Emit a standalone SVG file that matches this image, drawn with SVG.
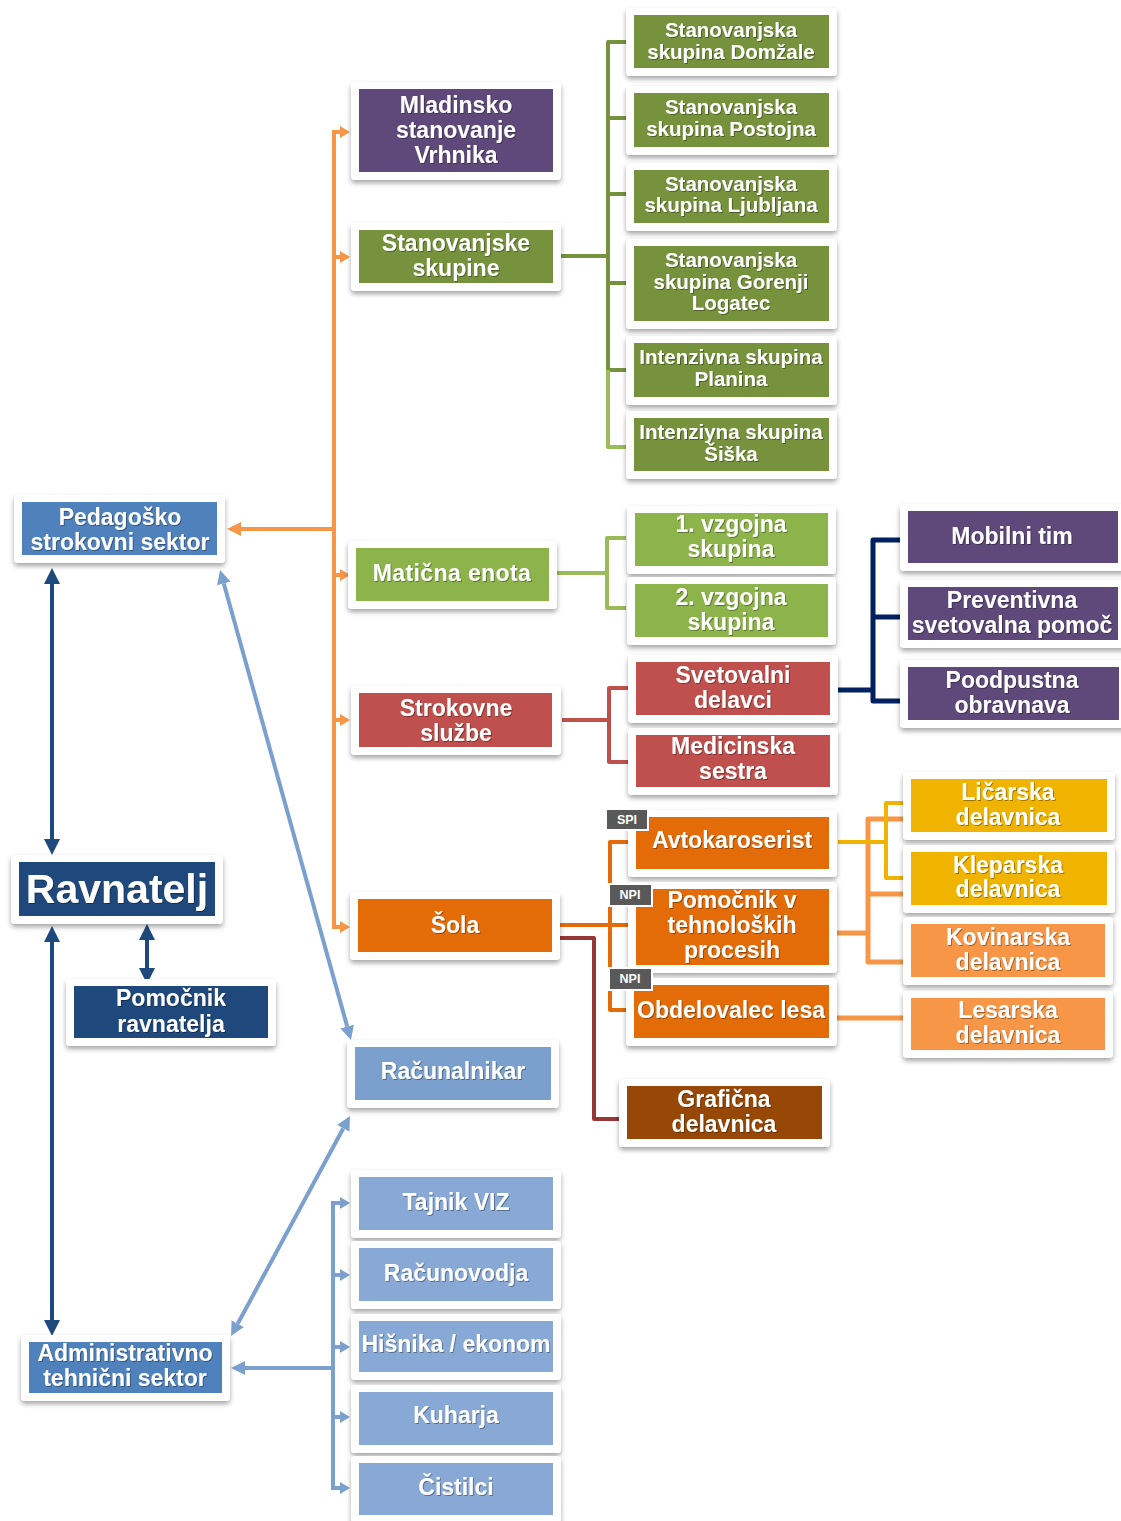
<svg xmlns="http://www.w3.org/2000/svg" width="1121" height="1521" viewBox="0 0 1121 1521">
<defs>
<filter id="sh" x="-10%" y="-20%" width="120%" height="150%"><feDropShadow dx="0" dy="3" stdDeviation="2.5" flood-color="#000" flood-opacity="0.35"/></filter>
<filter id="tsh" x="-10%" y="-30%" width="120%" height="160%"><feDropShadow dx="1" dy="1" stdDeviation="0.6" flood-color="#000" flood-opacity="0.35"/></filter>
<marker id="mO" viewBox="0 -6 10 12" refX="0" refY="0" markerWidth="10" markerHeight="12" markerUnits="userSpaceOnUse" orient="auto"><path d="M0,-6 L10,0 L0,6 z" fill="#F79646"/></marker>
<marker id="mOL" viewBox="0 -7 14 14" refX="0" refY="0" markerWidth="14" markerHeight="14" markerUnits="userSpaceOnUse" orient="auto"><path d="M0,-7 L14,0 L0,7 z" fill="#F79646"/></marker>
<marker id="mN" viewBox="0 -8 16 16" refX="0" refY="0" markerWidth="16" markerHeight="16" markerUnits="userSpaceOnUse" orient="auto-start-reverse"><path d="M0,-8 L16,0 L0,8 z" fill="#1F497D"/></marker>
<marker id="mB" viewBox="0 -7 14 14" refX="0" refY="0" markerWidth="14" markerHeight="14" markerUnits="userSpaceOnUse" orient="auto-start-reverse"><path d="M0,-7 L14,0 L0,7 z" fill="#7BA0CD"/></marker>
<marker id="mBs" viewBox="0 -6 10 12" refX="0" refY="0" markerWidth="10" markerHeight="12" markerUnits="userSpaceOnUse" orient="auto"><path d="M0,-6 L10,0 L0,6 z" fill="#7BA0CD"/></marker>
</defs>
<style>
.c{fill:#fff;filter:url(#sh)}
.t{font-family:"Liberation Sans",Arial,sans-serif;font-weight:bold;font-size:23px;fill:#fff;text-anchor:middle;filter:url(#tsh)}
.s{font-size:20.5px}
.big{font-size:41px}
.bd{font-size:12.5px;filter:none}
.ln{fill:none;stroke-linejoin:round}
.pur{fill:#5F497A}.olv{fill:#76923C}.lgr{fill:#8DB44B}.red{fill:#C0504D}.org{fill:#E36C09}
.brn{fill:#984806}.gld{fill:#F0B400}.lor{fill:#F79646}.blu{fill:#4F81BD}.nav{fill:#1F497D}
.lb1{fill:#7BA0CD}.lb2{fill:#88A9D5}.bdg{fill:#595959;stroke:#fff;stroke-width:2}
</style>
<rect width="1121" height="1521" fill="#fff"/>

<g id="connectors">
<path class="ln" d="M334 132 V927" stroke="#F79646" stroke-width="4"/>
<path class="ln" d="M332 132 H340" stroke="#F79646" stroke-width="4" marker-end="url(#mO)"/>
<path class="ln" d="M334 257 H340" stroke="#F79646" stroke-width="4" marker-end="url(#mO)"/>
<path class="ln" d="M334 575 H340" stroke="#F79646" stroke-width="4" marker-end="url(#mO)"/>
<path class="ln" d="M334 720 H340" stroke="#F79646" stroke-width="4" marker-end="url(#mO)"/>
<path class="ln" d="M332 927 H340" stroke="#F79646" stroke-width="4" marker-end="url(#mO)"/>
<path class="ln" d="M334 529 H241" stroke="#F79646" stroke-width="4" marker-end="url(#mOL)"/>
<path class="ln" d="M561 256 H608" stroke="#76923C" stroke-width="4"/>
<path class="ln" d="M626 42 H608 V370 H626" stroke="#76923C" stroke-width="4"/>
<path class="ln" d="M608 118 H626 M608 194 H626 M608 283 H626" stroke="#76923C" stroke-width="4"/>
<path class="ln" d="M608 370 V447 H626" stroke="#9BBB59" stroke-width="4"/>
<path class="ln" d="M557 573 H607" stroke="#9BBB59" stroke-width="4"/>
<path class="ln" d="M626 538 H607 V608 H626" stroke="#9BBB59" stroke-width="4"/>
<path class="ln" d="M562 720 H609" stroke="#C0504D" stroke-width="4"/>
<path class="ln" d="M628 688 H609 V762 H628" stroke="#C0504D" stroke-width="4"/>
<path class="ln" d="M838 690 H873" stroke="#002060" stroke-width="5"/>
<path class="ln" d="M900 540 H873 V701 H900 M873 617 H900" stroke="#002060" stroke-width="5"/>
<path class="ln" d="M560 925 H630" stroke="#E36C09" stroke-width="4"/>
<path class="ln" d="M630 842 H610 V1010 H630" stroke="#E36C09" stroke-width="4"/>
<path class="ln" d="M560 938 H594 V1119 H627" stroke="#953735" stroke-width="4"/>
<path class="ln" d="M836 933 H868" stroke="#F79646" stroke-width="5"/>
<path class="ln" d="M905 819 H868 V962 H905 M868 894 H905" stroke="#F79646" stroke-width="5"/>
<path class="ln" d="M838 842 H886" stroke="#F0B400" stroke-width="4"/>
<path class="ln" d="M905 803 H886 V878 H905" stroke="#F0B400" stroke-width="4"/>
<path class="ln" d="M836 1018 H905" stroke="#F79646" stroke-width="5"/>
<path class="ln" d="M52 584 V839" stroke="#1F497D" stroke-width="4" marker-start="url(#mN)" marker-end="url(#mN)"/>
<path class="ln" d="M52 942 V1320" stroke="#1F497D" stroke-width="4" marker-start="url(#mN)" marker-end="url(#mN)"/>
<path class="ln" d="M147 940 V968" stroke="#1F497D" stroke-width="4" marker-start="url(#mN)" marker-end="url(#mN)"/>
<path class="ln" d="M223.8 583.5 L347.2 1026.5" stroke="#7BA0CD" stroke-width="4" marker-start="url(#mB)" marker-end="url(#mB)"/>
<path class="ln" d="M343.3 1128.3 L237.7 1323.7" stroke="#7BA0CD" stroke-width="4" marker-start="url(#mB)" marker-end="url(#mB)"/>
<path class="ln" d="M333 1368 H245" stroke="#7BA0CD" stroke-width="4" marker-end="url(#mB)"/>
<path class="ln" d="M333 1203 V1488" stroke="#7BA0CD" stroke-width="4"/>
<path class="ln" d="M331 1203 H340 M333 1275 H340 M333 1347 H340 M333 1417 H340 M331 1488 H340" stroke="#7BA0CD" stroke-width="4"/>
<path class="ln" d="M338 1203 H340" stroke="#7BA0CD" stroke-width="4" marker-end="url(#mBs)"/>
<path class="ln" d="M338 1275 H340" stroke="#7BA0CD" stroke-width="4" marker-end="url(#mBs)"/>
<path class="ln" d="M338 1347 H340" stroke="#7BA0CD" stroke-width="4" marker-end="url(#mBs)"/>
<path class="ln" d="M338 1417 H340" stroke="#7BA0CD" stroke-width="4" marker-end="url(#mBs)"/>
<path class="ln" d="M338 1488 H340" stroke="#7BA0CD" stroke-width="4" marker-end="url(#mBs)"/>
</g>

<g id="n-mladinsko"><rect class="c" x="351" y="82" width="210" height="98" rx="4"/><rect class="pur" x="359" y="89" width="194" height="83"/><text class="t"><tspan x="456" y="113">Mladinsko</tspan><tspan x="456" y="138">stanovanje</tspan><tspan x="456" y="163">Vrhnika</tspan></text></g>
<g id="n-stanovanjske"><rect class="c" x="351" y="223" width="210" height="68" rx="4"/><rect class="olv" x="359" y="230" width="194" height="53"/><text class="t"><tspan x="456" y="251">Stanovanjske</tspan><tspan x="456" y="276">skupine</tspan></text></g>
<g id="n-maticna"><rect class="c" x="348" y="541" width="209" height="68" rx="4"/><rect class="lgr" x="356" y="548" width="193" height="53"/><text class="t" x="452" y="581" letter-spacing="0.4">Matična enota</text></g>
<g id="n-strokovne"><rect class="c" x="351" y="686" width="210" height="69" rx="4"/><rect class="red" x="359" y="693" width="193" height="54"/><text class="t"><tspan x="456" y="716">Strokovne</tspan><tspan x="456" y="741">službe</tspan></text></g>
<g id="n-sola"><rect class="c" x="350" y="892" width="210" height="68" rx="4"/><rect class="org" x="358" y="899" width="194" height="53"/><text class="t" x="455" y="933">Šola</text></g>
<g id="n-racunalnikar"><rect class="c" x="347" y="1040" width="212" height="68" rx="4"/><rect class="lb1" x="355" y="1047" width="196" height="53"/><text class="t" x="453" y="1079">Računalnikar</text></g>
<g id="n-tajnik"><rect class="c" x="351" y="1170" width="210" height="68" rx="4"/><rect class="lb2" x="359" y="1177" width="194" height="53"/><text class="t" x="456" y="1210">Tajnik VIZ</text></g>
<g id="n-racunovodja"><rect class="c" x="351" y="1241" width="210" height="68" rx="4"/><rect class="lb2" x="359" y="1248" width="194" height="53"/><text class="t" x="456" y="1281">Računovodja</text></g>
<g id="n-hisnika"><rect class="c" x="351" y="1314" width="210" height="66" rx="4"/><rect class="lb2" x="359" y="1321" width="194" height="51"/><text class="t" x="456" y="1352">Hišnika / ekonom</text></g>
<g id="n-kuharja"><rect class="c" x="351" y="1385" width="210" height="68" rx="4"/><rect class="lb2" x="359" y="1392" width="194" height="53"/><text class="t" x="456" y="1423">Kuharja</text></g>
<g id="n-cistilci"><rect class="c" x="351" y="1456" width="210" height="67" rx="4"/><rect class="lb2" x="359" y="1463" width="194" height="52"/><text class="t" x="456" y="1495">Čistilci</text></g>

<g id="n-pedagosko"><rect class="c" x="14" y="495" width="211" height="68" rx="4"/><rect class="blu" x="22" y="502" width="195" height="53"/><text class="t"><tspan x="120" y="525">Pedagoško</tspan><tspan x="120" y="550">strokovni sektor</tspan></text></g>
<g id="n-ravnatelj"><rect class="c" x="11" y="855" width="212" height="69" rx="4"/><rect class="nav" x="19" y="862" width="196" height="54"/><text class="t big" x="117" y="903">Ravnatelj</text></g>
<g id="n-pomocnik-ravnatelja"><rect class="c" x="66" y="979" width="210" height="67" rx="4"/><rect class="nav" x="74" y="986" width="194" height="52"/><text class="t"><tspan x="171" y="1006">Pomočnik</tspan><tspan x="171" y="1032">ravnatelja</tspan></text></g>
<g id="n-admin"><rect class="c" x="21" y="1335" width="209" height="66" rx="4"/><rect class="blu" x="29" y="1342" width="193" height="51"/><text class="t"><tspan x="125" y="1361">Administrativno</tspan><tspan x="125" y="1386">tehnični sektor</tspan></text></g>

<g id="n-domzale"><rect class="c" x="626" y="8" width="211" height="68" rx="4"/><rect class="olv" x="634" y="15" width="195" height="53"/><text class="t s"><tspan x="731" y="37">Stanovanjska</tspan><tspan x="731" y="59">skupina Domžale</tspan></text></g>
<g id="n-postojna"><rect class="c" x="626" y="86" width="211" height="69" rx="4"/><rect class="olv" x="634" y="93" width="195" height="54"/><text class="t s"><tspan x="731" y="114">Stanovanjska</tspan><tspan x="731" y="136">skupina Postojna</tspan></text></g>
<g id="n-ljubljana"><rect class="c" x="626" y="163" width="211" height="68" rx="4"/><rect class="olv" x="634" y="170" width="195" height="53"/><text class="t s"><tspan x="731" y="191">Stanovanjska</tspan><tspan x="731" y="212">skupina Ljubljana</tspan></text></g>
<g id="n-gorenji"><rect class="c" x="626" y="239" width="211" height="90" rx="4"/><rect class="olv" x="634" y="246" width="195" height="75"/><text class="t s"><tspan x="731" y="267">Stanovanjska</tspan><tspan x="731" y="289">skupina Gorenji</tspan><tspan x="731" y="310">Logatec</tspan></text></g>
<g id="n-planina"><rect class="c" x="626" y="336" width="211" height="69" rx="4"/><rect class="olv" x="634" y="343" width="195" height="54"/><text class="t s"><tspan x="731" y="364">Intenzivna skupina</tspan><tspan x="731" y="386">Planina</tspan></text></g>
<g id="n-siska"><rect class="c" x="626" y="411" width="211" height="68" rx="4"/><rect class="olv" x="634" y="418" width="195" height="53"/><text class="t s"><tspan x="731" y="439">Intenziyna skupina</tspan><tspan x="731" y="461">Šiška</tspan></text></g>

<g id="n-vzg1"><rect class="c" x="627" y="506" width="209" height="68" rx="4"/><rect class="lgr" x="635" y="513" width="193" height="53"/><text class="t"><tspan x="731" y="532">1. vzgojna</tspan><tspan x="731" y="557">skupina</tspan></text></g>
<g id="n-vzg2"><rect class="c" x="627" y="577" width="209" height="68" rx="4"/><rect class="lgr" x="635" y="584" width="193" height="53"/><text class="t"><tspan x="731" y="605">2. vzgojna</tspan><tspan x="731" y="630">skupina</tspan></text></g>
<g id="n-svetovalni"><rect class="c" x="628" y="655" width="210" height="68" rx="4"/><rect class="red" x="636" y="662" width="194" height="53"/><text class="t"><tspan x="733" y="683">Svetovalni</tspan><tspan x="733" y="708">delavci</tspan></text></g>
<g id="n-medicinska"><rect class="c" x="628" y="728" width="210" height="67" rx="4"/><rect class="red" x="636" y="735" width="194" height="52"/><text class="t"><tspan x="733" y="754">Medicinska</tspan><tspan x="733" y="779">sestra</tspan></text></g>
<g id="n-avtokaroserist"><rect class="c" x="628" y="810" width="209" height="67" rx="4"/><rect class="org" x="636" y="817" width="193" height="52"/><text class="t" x="732" y="848">Avtokaroserist</text></g>
<g id="n-pomocnik-tp"><rect class="c" x="628" y="882" width="209" height="91" rx="4"/><rect class="org" x="636" y="889" width="193" height="76"/><text class="t"><tspan x="732" y="908">Pomočnik v</tspan><tspan x="732" y="933">tehnoloških</tspan><tspan x="732" y="958">procesih</tspan></text></g>
<g id="n-obdelovalec"><rect class="c" x="626" y="978" width="211" height="68" rx="4"/><rect class="org" x="634" y="985" width="195" height="53"/><text class="t" x="731" y="1018">Obdelovalec lesa</text></g>
<g id="n-graficna"><rect class="c" x="619" y="1079" width="211" height="68" rx="4"/><rect class="brn" x="627" y="1086" width="195" height="53"/><text class="t"><tspan x="724" y="1107">Grafična</tspan><tspan x="724" y="1132">delavnica</tspan></text></g>

<g id="n-spi"><rect class="bdg" x="606" y="809" width="42" height="21"/><text class="t bd" x="627" y="824">SPI</text></g>
<g id="n-npi1"><rect class="bdg" x="609" y="884" width="43" height="22"/><text class="t bd" x="630" y="899">NPI</text></g>
<g id="n-npi2"><rect class="bdg" x="609" y="968" width="43" height="22"/><text class="t bd" x="630" y="983">NPI</text></g>

<g id="n-mobilni"><rect class="c" x="900" y="504" width="226" height="67" rx="4"/><rect class="pur" x="908" y="511" width="210" height="52"/><text class="t" x="1012" y="544">Mobilni tim</text></g>
<g id="n-preventivna"><rect class="c" x="900" y="580" width="226" height="68" rx="4"/><rect class="pur" x="908" y="587" width="210" height="53"/><text class="t"><tspan x="1012" y="608">Preventivna</tspan><tspan x="1012" y="633">svetovalna pomoč</tspan></text></g>
<g id="n-poodpustna"><rect class="c" x="900" y="660" width="226" height="68" rx="4"/><rect class="pur" x="908" y="667" width="211" height="53"/><text class="t"><tspan x="1012" y="688">Poodpustna</tspan><tspan x="1012" y="713">obravnava</tspan></text></g>
<g id="n-licarska"><rect class="c" x="903" y="772" width="212" height="68" rx="4"/><rect class="gld" x="911" y="779" width="196" height="53"/><text class="t"><tspan x="1008" y="800">Ličarska</tspan><tspan x="1008" y="825">delavnica</tspan></text></g>
<g id="n-kleparska"><rect class="c" x="903" y="845" width="212" height="68" rx="4"/><rect class="gld" x="911" y="852" width="196" height="53"/><text class="t"><tspan x="1008" y="873">Kleparska</tspan><tspan x="1008" y="897">delavnica</tspan></text></g>
<g id="n-kovinarska"><rect class="c" x="903" y="917" width="210" height="68" rx="4"/><rect class="lor" x="911" y="924" width="194" height="53"/><text class="t"><tspan x="1008" y="945">Kovinarska</tspan><tspan x="1008" y="970">delavnica</tspan></text></g>
<g id="n-lesarska"><rect class="c" x="903" y="991" width="210" height="67" rx="4"/><rect class="lor" x="911" y="998" width="194" height="52"/><text class="t"><tspan x="1008" y="1018">Lesarska</tspan><tspan x="1008" y="1043">delavnica</tspan></text></g>
</svg>
